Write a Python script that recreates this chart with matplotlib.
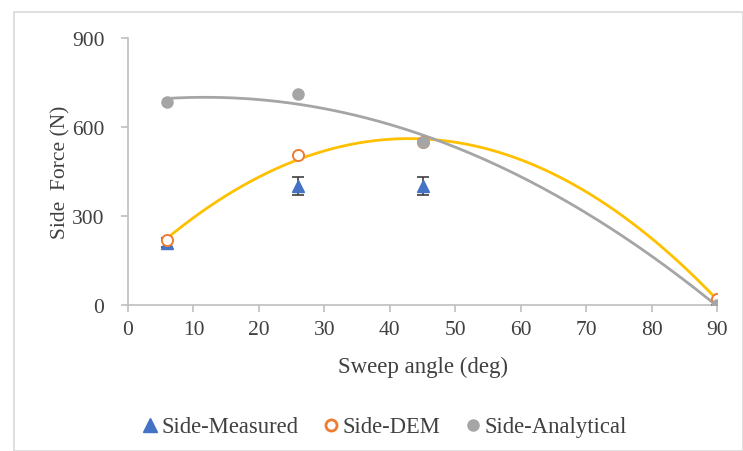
import numpy as np
import matplotlib
matplotlib.use("Agg")
import matplotlib.pyplot as plt
from matplotlib.patches import Rectangle
from matplotlib.lines import Line2D

# Data
sweep = [6, 26, 45, 90]
measured = [210, 400, 400, 0]
measured_err = [15, 30, 30, 0]
dem = [220, 505, 549, 20]
analytical = [684, 710, 549, 0]

x_ticks = [0, 10, 20, 30, 40, 50, 60, 70, 80, 90]
y_ticks = [0, 300, 600, 900]

plt.rcParams['font.family'] = ['Liberation Serif', 'DejaVu Serif']

fig = plt.figure(figsize=(7.43, 4.52), dpi=100)
fig.patches.append(Rectangle((14/743, 0), (743-14)/743, (452-13)/452, transform=fig.transFigure,
                             fill=False, edgecolor='#d9d9d9', linewidth=1.2))
ax = fig.add_axes([128/743, 1 - 306/452, (717-128)/743, (306-39)/452])

axis_col = '#bfbfbf'
text_col = '#404040'

# trendlines (polynomial order 2 through the data)
xs = np.linspace(6, 90, 200)
cd = np.polyfit(sweep, dem, 2)
ca = np.polyfit(sweep, analytical, 2)
ax.plot(xs, np.polyval(cd, xs), color='#ffc000', lw=2.0, zorder=2)
ax.plot(xs, np.polyval(ca, xs), color='#a5a5a5', lw=2.0, zorder=2)

ax.errorbar(sweep, measured, yerr=measured_err, fmt='^', color='#4472c4', ms=8,
            ecolor='#404040', elinewidth=1.2, capsize=4, capthick=1.2, zorder=3)
ax.plot(sweep, dem, 'o', mfc='white', mec='#ed7d31', mew=1.4, ms=8, zorder=4)
ax.plot(sweep, analytical, 'o', color='#a5a5a5', ms=8, zorder=5)

ax.set_xlim(0, 90)
ax.set_ylim(0, 900)
ax.set_xticks(x_ticks)
ax.set_yticks(y_ticks)
for s in ['top', 'right']:
    ax.spines[s].set_visible(False)
for s in ['left', 'bottom']:
    ax.spines[s].set_color(axis_col)
    ax.spines[s].set_linewidth(1.2)
ax.tick_params(axis='both', colors=axis_col, labelcolor=text_col, labelsize=15.5,
               length=5, width=1.2, direction='out')
ax.tick_params(axis='y', pad=12)
ax.tick_params(axis='x', pad=6)
ax.set_xlabel('Sweep angle (deg)', fontsize=16.5, color=text_col, labelpad=12)
ax.set_ylabel('Side  Force (N)', fontsize=15.5, color=text_col, labelpad=1)

handles = [
    Line2D([], [], ls='none', marker='^', color='#4472c4', ms=10),
    Line2D([], [], ls='none', marker='o', mfc='white', mec='#ed7d31', mew=2, ms=8),
    Line2D([], [], ls='none', marker='o', color='#a5a5a5', ms=8),
]
labels = ['Side-Measured', 'Side-DEM', 'Side-Analytical']
leg = fig.legend(handles, labels, loc='center', bbox_to_anchor=(0.515, 1 - 428/452), ncol=3,
                 frameon=False, fontsize=16.3, handletextpad=0.0, columnspacing=0.95,
                 handlelength=1.0)
for t in leg.get_texts():
    t.set_color(text_col)

fig.savefig('out.png', dpi=100)
